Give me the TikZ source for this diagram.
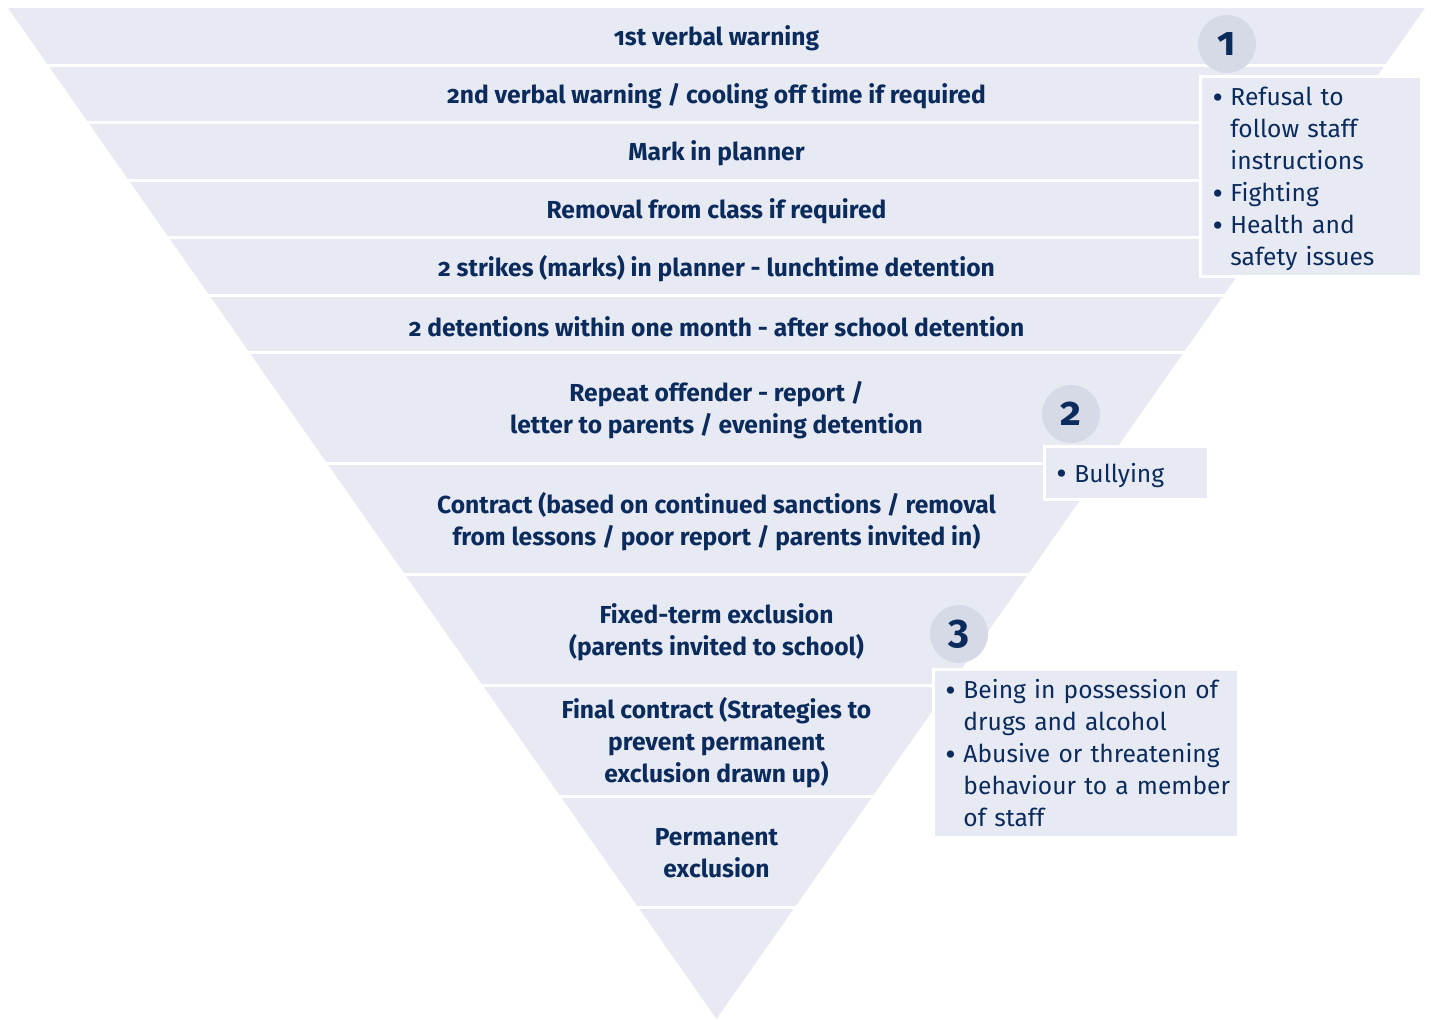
\documentclass[tikz,border=0pt]{standalone}
\usepackage{fontspec}
\setmainfont{Fira Sans}[Numbers=OldStyle]
\usetikzlibrary{positioning}

\definecolor{paleblue}{RGB}{231,234,243}
\definecolor{greyblue}{RGB}{213,218,230}
\definecolor{navy}{RGB}{11,43,92}

% bullet with a fixed width, so the text lines up
\newcommand{\pip}{\makebox[0.36cm][l]{\raisebox{-0.1em}{\scalebox{1.3}{\textbullet}}}}
% list a bit lower in its box
\newcommand{\lowered}[1]{\raisebox{0pt}[\dimexpr\height+0.12cm\relax]{#1}}

\tikzset{
  stage/.style={align=center, text=navy, yshift=-0.03cm,
    font=\fontsize{14}{18.2}\selectfont\bfseries},
  level/.style={circle, fill=greyblue, inner sep=0pt, minimum size=1.16cm,
    text=navy, font=\fontsize{23}{23}\selectfont\bfseries},
  reasons/.style={anchor=north west, draw=white, line width=1.7pt, fill=paleblue,
    text=navy, inner xsep=0.24cm, inner ysep=0pt, align=left,
    font=\fontsize{14}{18.2}\selectfont},
  gap/.style={white, line width=1.7pt}
}

\begin{document}
\begin{tikzpicture}[x=0.02cm, y=-0.02cm]
    \useasboundingbox (0,0) rectangle (1431,1019);

    % the inverted triangle, cut into bands
    \fill[paleblue] (8,8) -- (1425,8) -- (716.5,1019) -- cycle;
    \foreach \y in {65,122,180,237,295,352,463,574,685,796,907}
        \draw[gap] (0,\y) -- (1431,\y);

    \node[stage] (warn1) at (716.5,37) {1st verbal warning};
    \node[stage] (warn2) at (716.5,95) {2nd verbal warning / cooling off time if required};
    \node[stage] (planner) at (716.5,152) {Mark in planner};
    \node[stage] (removal) at (716.5,210) {Removal from class if required};
    \node[stage] (strikes) at (716.5,267) {2 strikes (marks) in planner - lunchtime detention};
    \node[stage] (detentions) at (716.5,325) {2 detentions within one month - after school detention};
    \node[stage] (repeat) at (716.5,409) {Repeat offender - report /\\letter to parents / evening detention};
    \node[stage] (contract) at (716.5,520) {Contract (based on continued sanctions / removal\\from lessons / poor report / parents invited in)};
    \node[stage] (fixedterm) at (716.5,631) {Fixed-term exclusion\\(parents invited to school)};
    \node[stage] (finalcontract) at (716.5,741) {Final contract (Strategies to\\prevent permanent\\exclusion drawn up)};
    \node[stage] (permanent) at (716.5,852) {Permanent\\exclusion};

    % levels of behaviour
    \node[reasons, text width=3.94cm, minimum height=4cm] (box1) at (1199,75)
        {\lowered{\begin{tabular}{@{}l@{}l@{}}
            \pip & Refusal to\\ & follow staff\\ & instructions\\
            \pip & Fighting\\
            \pip & Health and\\ & safety issues
        \end{tabular}}};
    \node[level] (num1) at (1227,44) {1};

    \node[reasons, text width=2.8cm, minimum height=1.06cm] (box2) at (1043,445)
        {\lowered{\begin{tabular}{@{}l@{}l@{}}
            \pip & Bullying
        \end{tabular}}};
    \node[level] (num2) at (1071,414) {2};

    \node[reasons, text width=5.62cm, minimum height=3.36cm] (box3) at (932,668)
        {\lowered{\begin{tabular}{@{}l@{}l@{}}
            \pip & Being in possession of\\ & drugs and alcohol\\
            \pip & Abusive or threatening\\ & behaviour to a member\\ & of staff
        \end{tabular}}};
    \node[level] (num3) at (959,634) {3};
\end{tikzpicture}
\end{document}
